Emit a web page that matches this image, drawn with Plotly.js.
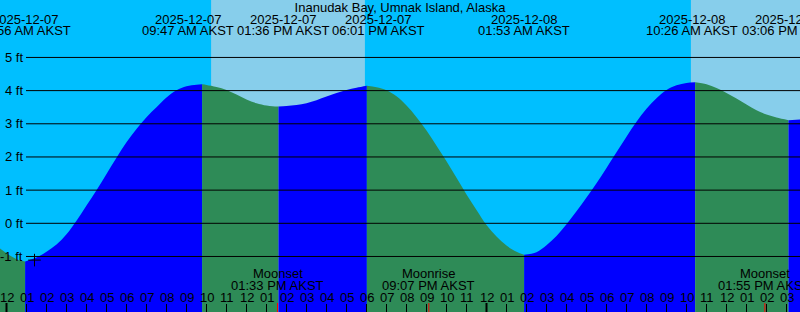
<!DOCTYPE html>
<html><head><meta charset="utf-8">
<script src="https://cdn.plot.ly/plotly-3.0.1.min.js"></script>
<style>html,body{margin:0;padding:0;background:#00BFFF;overflow:hidden}#chart{width:800px;height:312px}</style>
</head><body><div id="chart"></div>
<script>
// ---- data (hours counted from 2025-12-07 00:00 AKST, heights in ft) ----
const stationName = 'Inanudak Bay, Umnak Island, Alaska';
const tideHours = [-0.325, 0.0, 0.5, 0.933,
  1.5, 2.0, 2.5, 3.0, 3.5, 4.0, 4.5, 5.0, 5.5, 6.0, 6.5, 7.0, 7.5, 8.0, 8.5, 9.0, 9.5, 9.783,
  10.0, 10.5, 11.0, 11.5, 12.0, 12.5, 13.0, 13.3, 13.6,
  14.0, 14.5, 15.0, 15.5, 16.0, 16.5, 17.0, 17.5, 18.017,
  18.5, 19.0, 19.5, 20.0, 20.5, 21.0, 21.5, 22.0, 22.5, 23.0, 23.5, 24.0, 24.5, 25.0, 25.5, 25.883,
  26.5, 27.0, 27.5, 28.0, 28.5, 29.0, 29.5, 30.0, 30.5, 31.0, 31.5, 32.0, 32.5, 33.0, 33.5, 34.0, 34.433,
  35.0, 35.5, 36.0, 36.5, 37.0, 37.5, 38.0, 38.5, 39.1,
  39.675];
const tideFeet = [-0.76, -0.90, -1.08, -1.15,
  -1.03, -0.86, -0.64, -0.33, 0.08, 0.54, 1.0, 1.49, 1.98, 2.44, 2.84, 3.2, 3.5, 3.79, 4.01, 4.13, 4.18, 4.19,
  4.17, 4.11, 4.02, 3.88, 3.73, 3.62, 3.55, 3.53, 3.52,
  3.54, 3.57, 3.62, 3.71, 3.82, 3.93, 4.02, 4.09, 4.15,
  4.10, 4.01, 3.83, 3.55, 3.2, 2.8, 2.34, 1.87, 1.37, 0.87, 0.40, -0.05, -0.40, -0.67, -0.86, -0.95,
  -0.87, -0.66, -0.38, -0.03, 0.36, 0.78, 1.21, 1.67, 2.14, 2.61, 3.06, 3.45, 3.77, 4.02, 4.16, 4.23, 4.25,
  4.19, 4.08, 3.93, 3.76, 3.58, 3.41, 3.28, 3.19, 3.11,
  3.13];
const extremeHours = [0.933, 9.783, 13.6, 18.017, 25.883, 34.433, 39.1];
const extremeDates = ['2025-12-07', '2025-12-07', '2025-12-07', '2025-12-07', '2025-12-08', '2025-12-08', '2025-12-08'];
const extremeTimes = ['12:56 AM AKST', '09:47 AM AKST', '01:36 PM AKST', '06:01 PM AKST', '01:53 AM AKST', '10:26 AM AKST', '03:06 PM AKST'];
const moonHours = [13.55, 21.117, 37.917];
const moonEvents = ['Moonset', 'Moonrise', 'Moonset'];
const moonTimes = ['01:33 PM AKST', '09:07 PM AKST', '01:55 PM AKST'];
const sunriseHours = [10.23, 34.22];
const sunsetHours = [17.92, 41.9];
const midnightHours = [0, 24];
const hourTicks = [0,1,2,3,4,5,6,7,8,9,10,11,12,13,14,15,16,17,18,19,20,21,22,23,24,25,26,27,28,29,30,31,32,33,34,35,36,37,38,39];
const hourLabels = ['12','01','02','03','04','05','06','07','08','09','10','11','12','01','02','03','04','05','06','07','08','09','10','11',
  '12','01','02','03','04','05','06','07','08','09','10','11','12','01','02','03'];
const heightTicks = [-1, 0, 1, 2, 3, 4, 5];
const markHour = 1.4, markFeet = -1.11;

// ---- layout constants (pixels) ----
const W = 800, H = 312;
const xRange = [-0.325, 39.675];
const yRange = [-2.674, 6.732];
const extremeLabelShiftPx = [0, -14, 4.5, 12, 0, -3, 0];
const font = {family: 'Liberation Sans, Arial, sans-serif', size: 13, color: '#000'};
const py = p => 1 - p / H; // pixel row -> paper y

const RISE = '#0000FF', FALL = '#2E8B57', NIGHT = '#00BFFF', DAY = '#87CEEB';

// ---- traces: one filled segment between consecutive extremes ----
const bounds = [xRange[0], ...extremeHours, xRange[1]];
const traces = [];
for (let s = 0; s < bounds.length - 1; s++) {
  const xs = [], ys = [];
  tideHours.forEach((h, i) => { if (h >= bounds[s] - 1e-9 && h <= bounds[s + 1] + 1e-9) { xs.push(h); ys.push(tideFeet[i]); } });
  if (xs.length < 2) continue;
  const color = ys[ys.length - 1] > ys[0] ? RISE : FALL;
  traces.push({x: [xs[0], xs[xs.length - 1]], y: [-3, -3], mode: 'lines', line: {width: 0}, hoverinfo: 'skip', showlegend: false});
  traces.push({x: xs, y: ys, mode: 'lines', line: {width: 0, shape: 'spline', smoothing: 1}, fill: 'tonexty', fillcolor: color, hoverinfo: 'skip', showlegend: false});
}
traces.push({x: [markHour], y: [markFeet], mode: 'markers', marker: {symbol: 'cross-thin-open', size: 9, color: '#000', line: {color: '#000', width: 1}}, showlegend: false, hoverinfo: 'skip'});

// ---- shapes ----
const shapes = [];
sunriseHours.forEach((h, i) => shapes.push({type: 'rect', layer: 'below', xref: 'x', yref: 'paper', x0: h, x1: sunsetHours[i], y0: 0, y1: 1, fillcolor: DAY, line: {width: 0}}));
heightTicks.forEach(v => shapes.push({type: 'line', layer: 'above', xref: 'paper', yref: 'y', x0: 26 / W, x1: 1, y0: v, y1: v, line: {color: '#000', width: 1}}));
midnightHours.forEach(h => shapes.push({type: 'line', layer: 'above', xref: 'x', yref: 'paper', x0: h, x1: h, y0: 0, y1: 9 / H, line: {color: '#000', width: 2}}));
moonHours.forEach(h => shapes.push({type: 'line', layer: 'above', xref: 'x', yref: 'paper', x0: h, x1: h, y0: 0, y1: 9 / H, line: {color: '#FF0000', width: 1}}));

// ---- annotations ----
const ann = [];
const txt = (x, xref, y, yref, text, xanchor, xshift) => ann.push({x, xref, y, yref, text, showarrow: false, xanchor: xanchor || 'center', yanchor: 'middle', xshift: xshift || 0, font});
extremeHours.forEach((h, i) => {
  txt(h, 'x', py(19), 'paper', extremeDates[i], 'center', extremeLabelShiftPx[i]);
  txt(h, 'x', py(31), 'paper', extremeTimes[i], 'center', extremeLabelShiftPx[i]);
});
moonHours.forEach((h, i) => {
  txt(h, 'x', py(273.5), 'paper', moonEvents[i]);
  txt(h, 'x', py(285), 'paper', moonTimes[i]);
});
hourTicks.forEach((h, i) => txt(h, 'x', py(297.5), 'paper', hourLabels[i]));
heightTicks.forEach(v => txt(25 / W, 'paper', v, 'y', v + ' ft', 'right'));

const layout = {
  width: W, height: H, margin: {l: 0, r: 0, t: 0, b: 0, pad: 0},
  paper_bgcolor: NIGHT, plot_bgcolor: NIGHT,
  title: {text: stationName, font, x: 0.5, xanchor: 'center', y: py(7.5), yanchor: 'middle', xref: 'paper', yref: 'container'},
  xaxis: {range: xRange, tickvals: hourTicks, ticks: 'inside', ticklen: 8, tickwidth: 1, tickcolor: '#000', showticklabels: false, showgrid: false, zeroline: false, showline: false, fixedrange: true},
  yaxis: {range: yRange, showticklabels: false, showgrid: false, zeroline: false, showline: false, ticks: '', fixedrange: true},
  shapes, annotations: ann, showlegend: false
};
Plotly.newPlot('chart', traces, layout, {staticPlot: true, displayModeBar: false});
</script></body></html>
